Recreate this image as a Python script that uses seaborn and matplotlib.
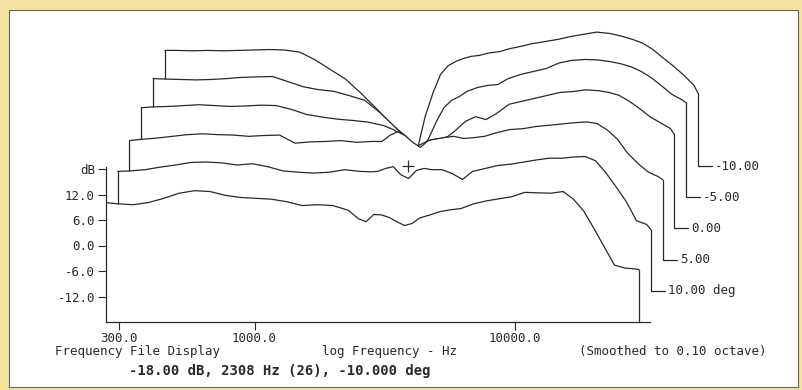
import numpy as np
import seaborn as sns
import matplotlib.pyplot as plt
from matplotlib.transforms import ScaledTranslation
from matplotlib.patches import Rectangle

# shared frequency points (Hz)
freq_hz = [268, 298, 342, 391, 448, 513, 588, 674, 772, 885,
           1013, 1161, 1331, 1524, 1747, 2001, 2293, 2510, 2687, 2877,
           3078, 3295, 3527, 3776, 4042, 4325, 4737, 5185, 5679, 6219,
           6963, 7798, 8737, 9784, 10960, 12270, 13750, 15400, 16860, 18460,
           20210, 22130, 24230, 26530, 29050, 30130]

# responses in dB, front trace first
resp_front = [10.1, 9.8, 9.6, 10.1, 11.1, 12.3, 12.9, 12.7, 11.8, 11.3,
              11.1, 10.9, 10.3, 9.4, 9.6, 9.4, 8.3, 6.3, 5.6, 7.3,
              7.2, 6.6, 5.6, 4.7, 5.2, 6.5, 7.2, 8.0, 8.4, 8.7,
              9.8, 10.5, 11.0, 11.5, 12.5, 12.4, 12.3, 12.7, 10.9, 8.1,
              4.0, -0.3, -4.6, -5.3, -5.5, -5.7]
resp_p10 = [10.1, 10.2, 10.5, 11.1, 11.6, 12.2, 12.3, 12.1, 11.6, 11.9,
            11.2, 10.2, 9.9, 9.7, 9.9, 10.5, 10.1, 10.0, 10.1, 10.8,
            11.2, 9.3, 8.4, 10.3, 10.8, 10.5, 10.5, 9.6, 8.2, 10.1,
            10.8, 11.5, 11.8, 12.3, 12.8, 13.2, 13.2, 13.5, 13.6, 12.6,
            9.8, 6.5, 3.0, -1.5, -2.4, -3.6]
resp_p5 = [10.0, 10.3, 10.6, 11.0, 11.4, 11.6, 11.4, 11.3, 11.0, 11.2,
           11.3, 9.4, 9.7, 9.8, 10.0, 9.6, 9.8, 9.8, 11.2, 12.1,
           11.2, 9.6, 8.4, 10.0, 10.4, 10.7, 11.0, 10.5, 10.7, 11.0,
           11.9, 12.6, 12.8, 13.3, 13.6, 13.9, 14.2, 14.4, 14.0, 12.5,
           10.3, 7.0, 4.6, 2.6, 1.5, 0.8]
resp_0 = [10.4, 10.6, 10.7, 10.9, 11.1, 10.9, 10.7, 10.8, 11.0, 10.9,
          10.0, 8.8, 8.2, 7.7, 7.4, 7.0, 6.2, 5.2, 3.9, 2.4,
          1.3, 2.2, 2.9, 3.0, 3.6, 5.0, 7.2, 8.3, 7.6, 9.0,
          11.2, 11.9, 12.6, 13.3, 14.0, 14.2, 14.6, 14.4, 14.0, 13.3,
          11.9, 10.2, 8.3, 6.9, 5.5, 4.1]
resp_m5 = [9.9, 9.8, 9.7, 9.6, 9.7, 9.9, 10.2, 10.3, 10.4, 9.2,
           8.0, 7.3, 6.9, 5.9, 4.8, 1.9, -1.6, -4.0, -6.1, -6.8,
           -4.2, -0.2, 3.1, 4.8, 5.7, 6.9, 7.8, 8.3, 8.5, 9.9,
           10.9, 11.6, 12.3, 13.6, 14.2, 14.4, 14.3, 13.9, 13.4, 12.7,
           11.6, 10.1, 8.2, 6.2, 4.9, 4.2]
resp_m10 = [9.2, 9.2, 9.1, 9.2, 9.1, 9.2, 9.3, 9.4, 9.3, 8.8,
            7.0, 4.7, 2.4, -0.9, -4.5, -8.2, -11.3, -14.1, -6.4, -0.9,
            3.5, 5.6, 6.6, 7.3, 7.8, 8.0, 8.6, 8.9, 9.6, 10.1,
            10.8, 11.3, 11.8, 12.5, 13.0, 13.5, 13.2, 12.5, 11.8, 10.9,
            9.4, 7.4, 5.5, 3.4, 1.0, -0.9]

traces = [resp_front, resp_p10, resp_p5, resp_0, resp_m5, resp_m10]
trace_labels = ['', '10.00 deg', '5.00', '0.00', '-5.00', '-10.00']

# cursor readout
cursor_hz = 2308
cursor_db = -18.0
cursor_deg = -10.0
cursor_idx = 26

y_ticks = [-12, -6, 0, 6, 12, 18]
y_ticklabels = ['-12.0', '-6.0', '0.0', '6.0', '12.0', 'dB']
x_major = [300, 1000, 10000]
x_major_labels = ['300.0', '1000.0', '10000.0']
x_minor = [400, 500, 600, 700, 800, 900,
           2000, 3000, 4000, 5000, 6000, 7000, 8000, 9000,
           20000, 30000]

ink = '#2b2630'
y_base = -18.0
px_per_dec = 260.0
px_per_db = 4.25
step_x, step_y = 0.118, 0.312   # waterfall step between traces, inches

sns.set_style('white')
plt.rcParams['font.family'] = ['DejaVu Sans Mono']

fig = plt.figure(figsize=(8.03, 3.90), dpi=100, facecolor='#f3e59f')
fig.patches.append(Rectangle((9 / 803, 3 / 390), 789 / 803, 377 / 390,
                             transform=fig.transFigure, facecolor='white',
                             edgecolor='#6b5f6e', lw=0.8, zorder=-10))

ax = fig.add_axes([106 / 803, 68 / 390, 694 / 803, 307 / 390])
ax.set_facecolor('none')
ax.set_xscale('log')
ax.set_xlim(10 ** (3 - 148.5 / px_per_dec), 10 ** (3 + 545.5 / px_per_dec))
ax.set_ylim(y_base, y_base + 307 / px_per_db)

conn = 10 ** (14 / px_per_dec)
for k in reversed(range(len(traces))):
    db = traces[k]
    tr = ax.transData + ScaledTranslation(k * step_x, k * step_y, fig.dpi_scale_trans)
    z = 10 + (len(traces) - k) * 3
    # white fill hides the traces behind
    ax.fill_between(freq_hz, db, y_base, color='white', lw=0, transform=tr, zorder=z)
    sns.lineplot(x=freq_hz, y=db, ax=ax, estimator=None, sort=False,
                 color=ink, lw=0.9, transform=tr, zorder=z + 1)
    f0, fn = freq_hz[0], freq_hz[-1]
    if k > 0:
        ax.plot([f0, f0], [y_base, db[0]], color=ink, lw=0.9, transform=tr, zorder=z + 1)
        ax.plot([fn, fn, fn * conn], [db[-1], y_base, y_base], color=ink, lw=0.9,
                transform=tr, zorder=z + 1)
        ax.text(fn * conn, y_base, trace_labels[k], fontsize=9, color=ink, va='center',
                ha='left', transform=tr + ScaledTranslation(0.03, 0, fig.dpi_scale_trans),
                zorder=z + 1)
    else:
        ax.plot([fn, fn], [db[-1], y_base], color=ink, lw=0.9, transform=tr, zorder=z + 1)

# cursor cross on the back trace
back = len(traces) - 1
tr_back = ax.transData + ScaledTranslation(back * step_x, back * step_y, fig.dpi_scale_trans)
ax.plot([cursor_hz], [cursor_db], marker='+', ms=9, mew=0.9, color=ink,
        transform=tr_back, zorder=100)

for side in ['top', 'right']:
    ax.spines[side].set_visible(False)
for side in ['left', 'bottom']:
    ax.spines[side].set_color(ink)
    ax.spines[side].set_linewidth(0.9)
    ax.spines[side].set_zorder(100)
ax.spines['left'].set_bounds(y_base, 18.4)
ax.spines['bottom'].set_bounds(10 ** (3 - 148.5 / px_per_dec), 10 ** (3 + 395.5 / px_per_dec))

ax.set_yticks(y_ticks, y_ticklabels)
ax.yaxis.get_major_ticks()[-1].tick1line.set_visible(False)
ax.set_xticks(x_major, x_major_labels)
ax.set_xticks(x_minor, minor=True)
ax.xaxis.set_minor_formatter(plt.NullFormatter())
ax.tick_params(axis='both', which='major', direction='out', length=6, width=0.8,
               color=ink, labelcolor=ink, labelsize=9, pad=2)
ax.tick_params(axis='x', which='major', pad=1)
ax.tick_params(axis='x', which='minor', direction='out', length=3, width=0.7, color=ink)
ax.tick_params(left=True, bottom=True)
ax.set_xlabel('')
ax.set_ylabel('')

fig.text(138 / 803, 1 - 351 / 390, 'Frequency File Display', fontsize=9, color=ink,
         va='center', ha='center')
fig.text(390 / 803, 1 - 351 / 390, 'log Frequency - Hz', fontsize=9, color=ink,
         va='center', ha='center')
fig.text(673 / 803, 1 - 351 / 390, '(Smoothed to 0.10 octave)', fontsize=9, color=ink,
         va='center', ha='center')
fig.text(280 / 803, 1 - 371 / 390,
         f'{cursor_db:.2f} dB, {cursor_hz} Hz ({cursor_idx}), {cursor_deg:.3f} deg',
         fontsize=10, fontweight='bold', color=ink, va='center', ha='center')

fig.savefig('out.png', dpi=100, facecolor=fig.get_facecolor())
